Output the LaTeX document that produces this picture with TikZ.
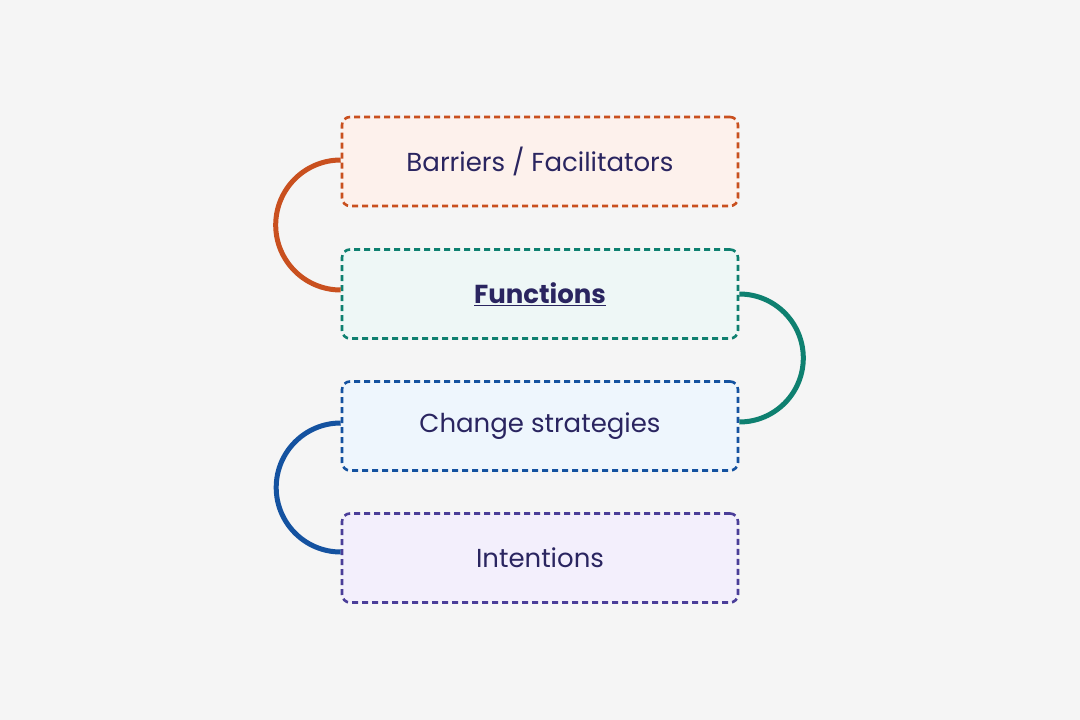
\documentclass[tikz,border=0pt]{standalone}
\usepackage{fontspec}
\setmainfont{Poppins}
\definecolor{bg}{HTML}{F5F5F5}
\definecolor{txt}{HTML}{2A2560}
\definecolor{c1}{HTML}{C9501F}\definecolor{f1}{HTML}{FDF1EC}
\definecolor{c2}{HTML}{0E8070}\definecolor{f2}{HTML}{EEF7F6}
\definecolor{c3}{HTML}{1452A0}\definecolor{f3}{HTML}{EEF6FD}
\definecolor{c4}{HTML}{4B3E99}\definecolor{f4}{HTML}{F3EFFC}
\newcommand{\myul}[1]{\underline{#1}}
\begin{document}
\begin{tikzpicture}[x=1pt,y=-1pt,
  box/.style={draw=#1,line width=2.6pt,dash pattern=on 6pt off 4pt,rounded corners=8pt,minimum width=396pt,minimum height=89pt,inner sep=0pt,text=txt,font=\fontsize{26}{30}\selectfont},
  link/.style={draw=#1,line width=5pt}]
\fill[bg] (0,0) rectangle (1080,720);
\useasboundingbox (0,0) rectangle (1080,720);
\node[box=c1,fill=f1] (b1) at (540,161.5) {Barriers / Facilitators};
\node[box=c2,fill=f2] (b2) at (540,294) {\textbf{\myul{Functions}}};
\node[box=c3,fill=f3] (b3) at (540,426) {Change strategies};
\node[box=c4,fill=f4] (b4) at (540,558) {Intentions};
\draw[link=c1] ([yshift=1.5pt]b1.west) arc[start angle=270,end angle=90,radius=65];
\draw[link=c2] (b2.east) arc[start angle=270,end angle=450,radius=64];
\draw[link=c3] ([yshift=3pt]b3.west) arc[start angle=270,end angle=90,radius=64.5];
\end{tikzpicture}
\end{document}
